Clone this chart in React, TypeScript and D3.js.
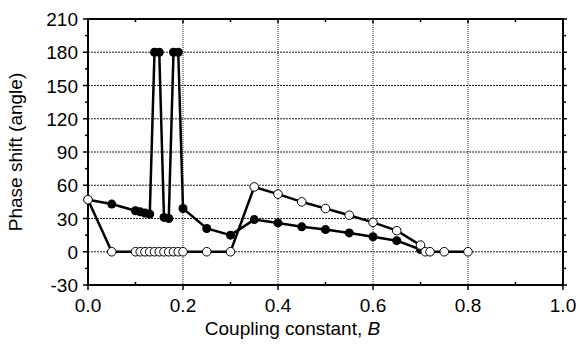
import { useEffect, useRef } from 'react'
import * as d3 from 'd3'

// Coupling constant B (x) and phase shift in degrees (y)
const filledB = [0, 0.05, 0.1, 0.11, 0.12, 0.13, 0.14, 0.15, 0.16, 0.17, 0.18, 0.19, 0.2, 0.25, 0.3, 0.35, 0.4, 0.45, 0.5, 0.55, 0.6, 0.65, 0.7]
const filledPhase = [47, 43, 37, 36, 35, 34, 180, 180, 31, 30, 180, 180, 39, 21, 15, 29, 26, 22.5, 20, 17, 13.5, 10, 2]

const openB = [0, 0.05, 0.1, 0.11, 0.12, 0.13, 0.14, 0.15, 0.16, 0.17, 0.18, 0.19, 0.2, 0.25, 0.3, 0.35, 0.4, 0.45, 0.5, 0.55, 0.6, 0.65, 0.7, 0.71, 0.72, 0.75, 0.8]
const openPhase = [47, 0, 0, 0, 0, 0, 0, 0, 0, 0, 0, 0, 0, 0, 0, 58.5, 52, 45, 39, 33, 26.5, 19, 6, 0, 0, 0, 0]

const xTicks = [0, 0.2, 0.4, 0.6, 0.8, 1.0]
const xMinor = [0.1, 0.3, 0.5, 0.7, 0.9]
const yTicks = [-30, 0, 30, 60, 90, 120, 150, 180, 210]
const yMinor = [-15, 15, 45, 75, 105, 135, 165, 195]

export default function App() {
  const svgRef = useRef<SVGSVGElement>(null)

  useEffect(() => {
    if (!svgRef.current) return
    document.body.style.margin = '0'

    const svg = d3.select(svgRef.current)
    const width = 580
    const height = 345
    const margin = { top: 19, right: 17, bottom: 60, left: 88 }
    const w = width - margin.left - margin.right
    const h = height - margin.top - margin.bottom
    const font = 'Liberation Sans, Arial, sans-serif'

    svg.selectAll('*').remove()
    svg.attr('width', width).attr('height', height)

    const g = svg.append('g').attr('transform', `translate(${margin.left},${margin.top})`)

    const x = d3.scaleLinear().domain([0, 1]).range([0, w])
    const y = d3.scaleLinear().domain([-30, 210]).range([h, 0])

    // Grid
    g.selectAll('.hgrid')
      .data(yTicks.filter((t) => t > -30 && t < 210))
      .join('line')
      .attr('x1', 0)
      .attr('x2', w)
      .attr('y1', (d) => y(d))
      .attr('y2', (d) => y(d))
      .attr('stroke', '#222')
      .attr('stroke-width', 1)
      .attr('stroke-dasharray', '2,1')

    g.selectAll('.vgrid')
      .data(xTicks.filter((t) => t > 0 && t < 1))
      .join('line')
      .attr('x1', (d) => x(d))
      .attr('x2', (d) => x(d))
      .attr('y1', 0)
      .attr('y2', h)
      .attr('stroke', '#222')
      .attr('stroke-width', 1)
      .attr('stroke-dasharray', '1,1')

    // Frame
    g.append('rect')
      .attr('x', 0)
      .attr('y', 0)
      .attr('width', w)
      .attr('height', h)
      .attr('fill', 'none')
      .attr('stroke', '#000')
      .attr('stroke-width', 2)

    // Ticks
    const tickG = g.append('g').attr('stroke', '#000').attr('stroke-width', 1.5)
    xTicks.forEach((t) => {
      tickG.append('line').attr('x1', x(t)).attr('x2', x(t)).attr('y1', h).attr('y2', h + 5)
      tickG.append('line').attr('x1', x(t)).attr('x2', x(t)).attr('y1', 0).attr('y2', 4)
    })
    xMinor.forEach((t) => {
      tickG.append('line').attr('x1', x(t)).attr('x2', x(t)).attr('y1', h - 3).attr('y2', h)
      tickG.append('line').attr('x1', x(t)).attr('x2', x(t)).attr('y1', 0).attr('y2', 3)
    })
    yTicks.forEach((t) => {
      tickG.append('line').attr('x1', -5).attr('x2', 0).attr('y1', y(t)).attr('y2', y(t))
      tickG.append('line').attr('x1', w).attr('x2', w + 4).attr('y1', y(t)).attr('y2', y(t))
    })
    yMinor.forEach((t) => {
      tickG.append('line').attr('x1', -3).attr('x2', 0).attr('y1', y(t)).attr('y2', y(t))
      tickG.append('line').attr('x1', w).attr('x2', w + 3).attr('y1', y(t)).attr('y2', y(t))
    })

    // Tick labels
    g.selectAll('.xlab')
      .data(xTicks)
      .join('text')
      .attr('x', (d) => x(d))
      .attr('y', h + 27)
      .attr('text-anchor', 'middle')
      .attr('font-family', font)
      .attr('font-size', '19px')
      .attr('fill', '#000')
      .text((d) => d3.format('.1f')(d))

    g.selectAll('.ylab')
      .data(yTicks)
      .join('text')
      .attr('x', -10)
      .attr('y', (d) => y(d) + 7)
      .attr('text-anchor', 'end')
      .attr('font-family', font)
      .attr('font-size', '19px')
      .attr('fill', '#000')
      .text((d) => String(d))

    // Axis titles
    const xTitle = g
      .append('text')
      .attr('x', w / 2 - 33)
      .attr('y', h + 50)
      .attr('text-anchor', 'middle')
      .attr('font-family', font)
      .attr('font-size', '19px')
      .attr('fill', '#000')
    xTitle.append('tspan').text('Coupling constant, ')
    xTitle.append('tspan').attr('font-style', 'italic').text('B')

    g.append('text')
      .attr('transform', `translate(${-66},${h / 2}) rotate(-90)`)
      .attr('text-anchor', 'middle')
      .attr('font-family', font)
      .attr('font-size', '19px')
      .attr('fill', '#000')
      .text('Phase shift (angle)')

    // Series
    const line = d3
      .line<[number, number]>()
      .x((d) => x(d[0]))
      .y((d) => y(d[1]))

    const filled = filledB.map((b, i) => [b, filledPhase[i]] as [number, number])
    const open = openB.map((b, i) => [b, openPhase[i]] as [number, number])

    g.append('path')
      .datum(filled)
      .attr('fill', 'none')
      .attr('stroke', '#000')
      .attr('stroke-width', 2.5)
      .attr('d', line)

    g.selectAll('.fdot')
      .data(filled)
      .join('circle')
      .attr('cx', (d) => x(d[0]))
      .attr('cy', (d) => y(d[1]))
      .attr('r', 4.5)
      .attr('fill', '#000')

    g.append('path')
      .datum(open)
      .attr('fill', 'none')
      .attr('stroke', '#000')
      .attr('stroke-width', 2.5)
      .attr('d', line)

    g.selectAll('.odot')
      .data(open)
      .join('circle')
      .attr('cx', (d) => x(d[0]))
      .attr('cy', (d) => y(d[1]))
      .attr('r', 4.3)
      .attr('fill', '#fff')
      .attr('stroke', '#000')
      .attr('stroke-width', 1)
  }, [])

  return <svg ref={svgRef}></svg>
}
